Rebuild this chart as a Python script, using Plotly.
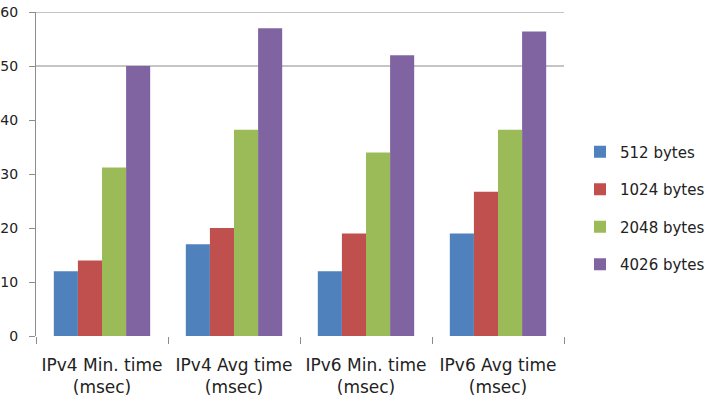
import plotly.graph_objects as go

categories = ["IPv4 Min. time<br>(msec)", "IPv4 Avg time<br>(msec)",
              "IPv6 Min. time<br>(msec)", "IPv6 Avg time<br>(msec)"]
series_names = ["512 bytes", "1024 bytes", "2048 bytes", "4026 bytes"]
v512 = [12, 17, 12, 19]
v1024 = [14, 20, 19, 26.7]
v2048 = [31.2, 38.2, 34, 38.2]
v4026 = [50, 57, 52, 56.4]
colors = ["#4F81BD", "#C0504D", "#9BBB59", "#8064A2"]
y_ticks = [0, 10, 20, 30, 40, 50, 60]
grid_vals = [50, 60]

fig = go.Figure()
for name, vals, col in zip(series_names, [v512, v1024, v2048, v4026], colors):
    fig.add_trace(go.Bar(x=categories, y=vals, name=name, marker_color=col,
                         marker_line_width=0, legendgroup=name))

for g in grid_vals:
    fig.add_shape(type="line", xref="paper", yref="y", x0=0, x1=1, y0=g, y1=g,
                  line=dict(color="#8c8c8c", width=1.2), layer="below")

fig.update_layout(
    width=708, height=411,
    margin=dict(l=36, r=144, t=12, b=75),
    paper_bgcolor="white", plot_bgcolor="white",
    barmode="group", bargap=0.27, bargroupgap=0,
    font=dict(family="DejaVu Sans, sans-serif", size=15, color="#222"),
    showlegend=True,
    legend=dict(xref="container", yref="container", x=580 / 708, xanchor="left",
                y=1 - 208 / 411, yanchor="middle",
                traceorder="grouped", tracegroupgap=15,
                font=dict(size=15, color="#222")),
)
fig.update_xaxes(showline=False, showgrid=False, ticks="outside", tickson="boundaries",
                 ticklen=7, tickcolor="#8c8c8c", automargin=False,
                 ticklabelstandoff=17,
                 tickfont=dict(size=17, color="#222"))
fig.update_yaxes(range=[0, 60], tickvals=y_ticks, showgrid=False, zeroline=False,
                 showline=True, linecolor="#8c8c8c", linewidth=1.2,
                 ticks="outside", ticklen=6, tickcolor="#8c8c8c",
                 ticklabelstandoff=8, automargin=False,
                 tickfont=dict(size=14, color="#222"))

fig.write_html("out.html")
